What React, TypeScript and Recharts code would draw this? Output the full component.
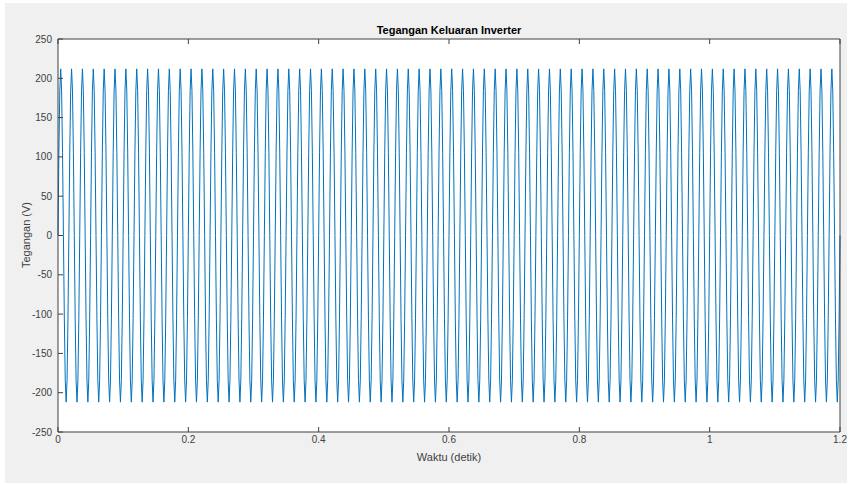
import React from 'react';
import { LineChart, Line, XAxis, YAxis, Label } from 'recharts';

// sampled inverter output voltage, 1/720 s between samples (60 Hz, ~212 V peak)
const SAMPLE_STEP = 1 / 720;

const voltage: number[] = [
  0, 106, 184, 212, 184, 106, 0, -106, -184, -212, -184, -106,
  0, 106, 184, 212, 184, 106, 0, -106, -184, -212, -184, -106,
  0, 106, 184, 212, 184, 106, 0, -106, -184, -212, -184, -106,
  0, 106, 184, 212, 184, 106, 0, -106, -184, -212, -184, -106,
  0, 106, 184, 212, 184, 106, 0, -106, -184, -212, -184, -106,
  0, 106, 184, 212, 184, 106, 0, -106, -184, -212, -184, -106,
  0, 106, 184, 212, 184, 106, 0, -106, -184, -212, -184, -106,
  0, 106, 184, 212, 184, 106, 0, -106, -184, -212, -184, -106,
  0, 106, 184, 212, 184, 106, 0, -106, -184, -212, -184, -106,
  0, 106, 184, 212, 184, 106, 0, -106, -184, -212, -184, -106,
  0, 106, 184, 212, 184, 106, 0, -106, -184, -212, -184, -106,
  0, 106, 184, 212, 184, 106, 0, -106, -184, -212, -184, -106,
  0, 106, 184, 212, 184, 106, 0, -106, -184, -212, -184, -106,
  0, 106, 184, 212, 184, 106, 0, -106, -184, -212, -184, -106,
  0, 106, 184, 212, 184, 106, 0, -106, -184, -212, -184, -106,
  0, 106, 184, 212, 184, 106, 0, -106, -184, -212, -184, -106,
  0, 106, 184, 212, 184, 106, 0, -106, -184, -212, -184, -106,
  0, 106, 184, 212, 184, 106, 0, -106, -184, -212, -184, -106,
  0, 106, 184, 212, 184, 106, 0, -106, -184, -212, -184, -106,
  0, 106, 184, 212, 184, 106, 0, -106, -184, -212, -184, -106,
  0, 106, 184, 212, 184, 106, 0, -106, -184, -212, -184, -106,
  0, 106, 184, 212, 184, 106, 0, -106, -184, -212, -184, -106,
  0, 106, 184, 212, 184, 106, 0, -106, -184, -212, -184, -106,
  0, 106, 184, 212, 184, 106, 0, -106, -184, -212, -184, -106,
  0, 106, 184, 212, 184, 106, 0, -106, -184, -212, -184, -106,
  0, 106, 184, 212, 184, 106, 0, -106, -184, -212, -184, -106,
  0, 106, 184, 212, 184, 106, 0, -106, -184, -212, -184, -106,
  0, 106, 184, 212, 184, 106, 0, -106, -184, -212, -184, -106,
  0, 106, 184, 212, 184, 106, 0, -106, -184, -212, -184, -106,
  0, 106, 184, 212, 184, 106, 0, -106, -184, -212, -184, -106,
  0, 106, 184, 212, 184, 106, 0, -106, -184, -212, -184, -106,
  0, 106, 184, 212, 184, 106, 0, -106, -184, -212, -184, -106,
  0, 106, 184, 212, 184, 106, 0, -106, -184, -212, -184, -106,
  0, 106, 184, 212, 184, 106, 0, -106, -184, -212, -184, -106,
  0, 106, 184, 212, 184, 106, 0, -106, -184, -212, -184, -106,
  0, 106, 184, 212, 184, 106, 0, -106, -184, -212, -184, -106,
  0, 106, 184, 212, 184, 106, 0, -106, -184, -212, -184, -106,
  0, 106, 184, 212, 184, 106, 0, -106, -184, -212, -184, -106,
  0, 106, 184, 212, 184, 106, 0, -106, -184, -212, -184, -106,
  0, 106, 184, 212, 184, 106, 0, -106, -184, -212, -184, -106,
  0, 106, 184, 212, 184, 106, 0, -106, -184, -212, -184, -106,
  0, 106, 184, 212, 184, 106, 0, -106, -184, -212, -184, -106,
  0, 106, 184, 212, 184, 106, 0, -106, -184, -212, -184, -106,
  0, 106, 184, 212, 184, 106, 0, -106, -184, -212, -184, -106,
  0, 106, 184, 212, 184, 106, 0, -106, -184, -212, -184, -106,
  0, 106, 184, 212, 184, 106, 0, -106, -184, -212, -184, -106,
  0, 106, 184, 212, 184, 106, 0, -106, -184, -212, -184, -106,
  0, 106, 184, 212, 184, 106, 0, -106, -184, -212, -184, -106,
  0, 106, 184, 212, 184, 106, 0, -106, -184, -212, -184, -106,
  0, 106, 184, 212, 184, 106, 0, -106, -184, -212, -184, -106,
  0, 106, 184, 212, 184, 106, 0, -106, -184, -212, -184, -106,
  0, 106, 184, 212, 184, 106, 0, -106, -184, -212, -184, -106,
  0, 106, 184, 212, 184, 106, 0, -106, -184, -212, -184, -106,
  0, 106, 184, 212, 184, 106, 0, -106, -184, -212, -184, -106,
  0, 106, 184, 212, 184, 106, 0, -106, -184, -212, -184, -106,
  0, 106, 184, 212, 184, 106, 0, -106, -184, -212, -184, -106,
  0, 106, 184, 212, 184, 106, 0, -106, -184, -212, -184, -106,
  0, 106, 184, 212, 184, 106, 0, -106, -184, -212, -184, -106,
  0, 106, 184, 212, 184, 106, 0, -106, -184, -212, -184, -106,
  0, 106, 184, 212, 184, 106, 0, -106, -184, -212, -184, -106,
  0, 106, 184, 212, 184, 106, 0, -106, -184, -212, -184, -106,
  0, 106, 184, 212, 184, 106, 0, -106, -184, -212, -184, -106,
  0, 106, 184, 212, 184, 106, 0, -106, -184, -212, -184, -106,
  0, 106, 184, 212, 184, 106, 0, -106, -184, -212, -184, -106,
  0, 106, 184, 212, 184, 106, 0, -106, -184, -212, -184, -106,
  0, 106, 184, 212, 184, 106, 0, -106, -184, -212, -184, -106,
  0, 106, 184, 212, 184, 106, 0, -106, -184, -212, -184, -106,
  0, 106, 184, 212, 184, 106, 0, -106, -184, -212, -184, -106,
  0, 106, 184, 212, 184, 106, 0, -106, -184, -212, -184, -106,
  0, 106, 184, 212, 184, 106, 0, -106, -184, -212, -184, -106,
  0, 106, 184, 212, 184, 106, 0, -106, -184, -212, -184, -106,
  0, 106, 184, 212, 184, 106, 0, -106, -184, -212, -184, -106,
  0,
];

const xTicks = [0, 0.2, 0.4, 0.6, 0.8, 1, 1.2];
const yTicks = [-250, -200, -150, -100, -50, 0, 50, 100, 150, 200, 250];

const data = voltage.map((v, i) => ({ t: i * SAMPLE_STEP, v }));

const AXIS = '#404040';
const FONT = '"Liberation Sans", Arial, Helvetica, sans-serif';
const noLabel = () => <g />;

export default function App() {
  return (
    <div style={{ position: 'absolute', left: 0, top: 0, width: 850, height: 484, background: '#fff' }}>
      <div style={{ position: 'absolute', left: 5, top: 3, width: 842, height: 480, background: '#f0f0f0' }} />
      <div style={{ position: 'absolute', left: 0, top: 0 }}>
        <LineChart
          width={850}
          height={484}
          data={data}
          margin={{ top: 38, right: 9, bottom: 0, left: 0 }}
          style={{ fontFamily: FONT }}
        >
          <rect x={58} y={39} width={782} height={393} fill="#fff" />
          <XAxis
            xAxisId="b"
            type="number"
            dataKey="t"
            domain={[0, 1.2]}
            ticks={xTicks}
            interval={0}
            height={52}
            tickSize={-5}
            tickMargin={9}
            stroke={AXIS}
            tick={{ fill: AXIS, fontSize: 10 }}
          >
            <Label
              content={() => (
                <text x={449} y={461} textAnchor="middle" fill={AXIS} fontSize={11} fontFamily={FONT}>
                  Waktu (detik)
                </text>
              )}
            />
          </XAxis>
          <XAxis
            xAxisId="t"
            orientation="top"
            type="number"
            dataKey="t"
            domain={[0, 1.2]}
            ticks={xTicks}
            interval={0}
            height={1}
            tickSize={-5}
            stroke={AXIS}
            tick={noLabel}
          >
            <Label
              content={() => (
                <text x={449} y={34} textAnchor="middle" fill="#000" fontSize={11} fontWeight="bold" fontFamily={FONT}>
                  Tegangan Keluaran Inverter
                </text>
              )}
            />
          </XAxis>
          <YAxis
            yAxisId="l"
            type="number"
            domain={[-250, 250]}
            ticks={yTicks}
            interval={0}
            width={58}
            tickSize={-5}
            tickMargin={11}
            stroke={AXIS}
            tick={{ fill: AXIS, fontSize: 10 }}
          >
            <Label
              content={() => (
                <text
                  x={30}
                  y={235}
                  transform="rotate(-90 30 235)"
                  textAnchor="middle"
                  fill={AXIS}
                  fontSize={11}
                  fontFamily={FONT}
                >
                  Tegangan (V)
                </text>
              )}
            />
          </YAxis>
          <YAxis
            yAxisId="r"
            orientation="right"
            type="number"
            domain={[-250, 250]}
            ticks={yTicks}
            interval={0}
            width={1}
            tickSize={-5}
            stroke={AXIS}
            tick={noLabel}
          />
          <Line
            xAxisId="b"
            yAxisId="l"
            type="linear"
            dataKey="v"
            stroke="#0072BD"
            strokeWidth={1}
            dot={false}
            activeDot={false}
            isAnimationActive={false}
          />
        </LineChart>
      </div>
    </div>
  );
}
